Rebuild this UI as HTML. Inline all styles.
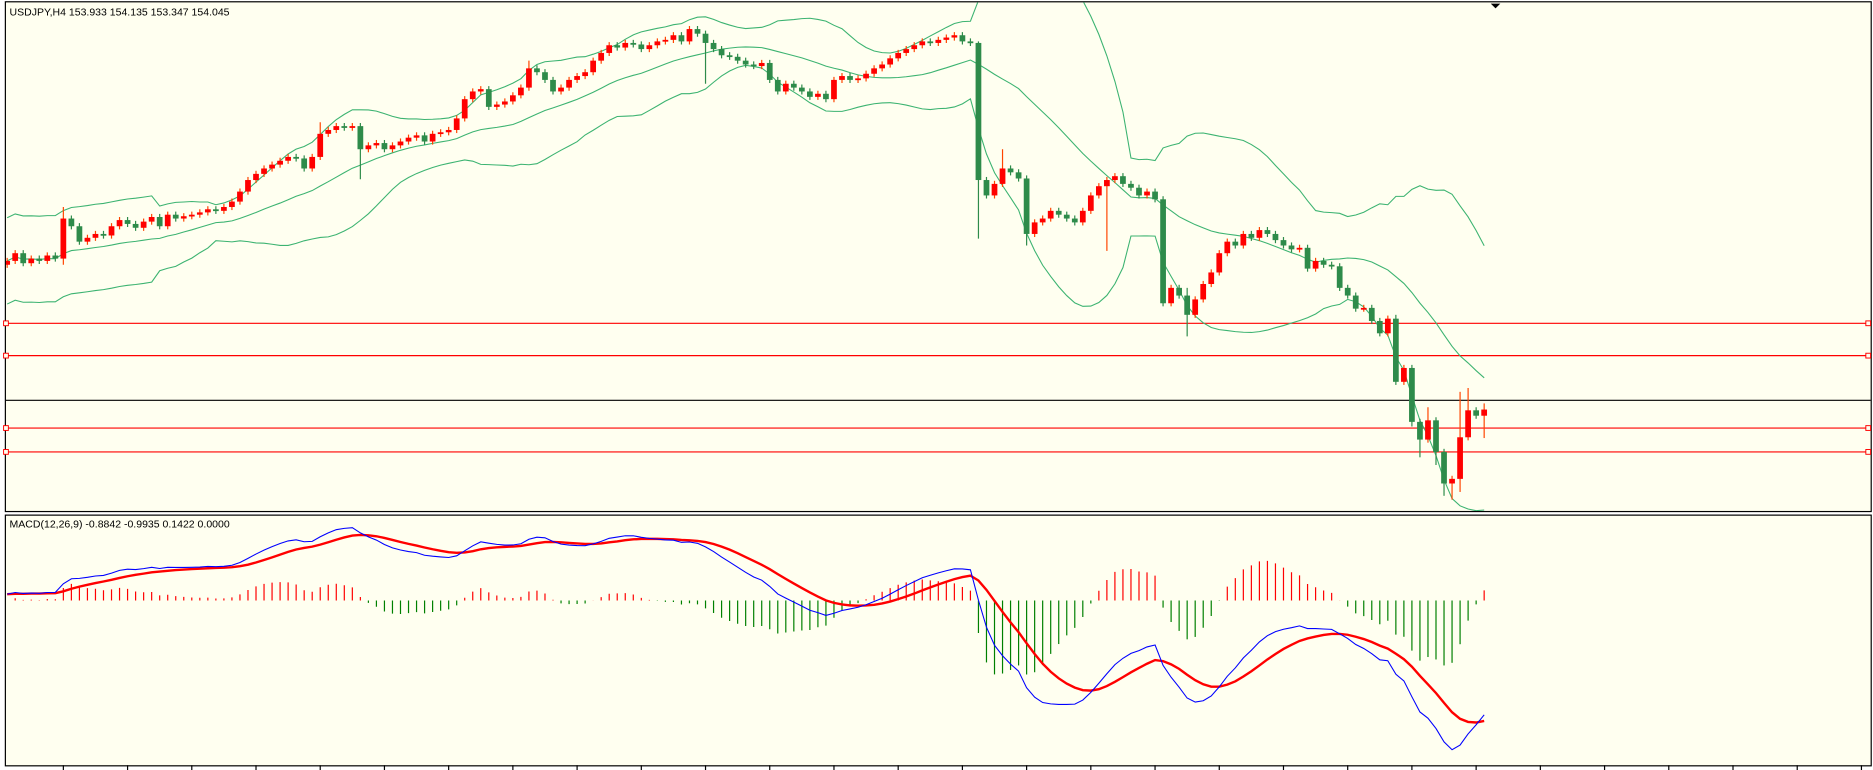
<!DOCTYPE html>
<html><head><meta charset="utf-8"><title>USDJPY H4</title>
<style>
html,body{margin:0;padding:0;background:#fff;}
svg{display:block;font-family:"Liberation Sans",sans-serif;}
</style></head>
<body>
<svg id="chart" width="1873" height="770" viewBox="0 0 1568 645" preserveAspectRatio="none" xmlns="http://www.w3.org/2000/svg">
  <rect x="0" y="0" width="1568" height="645" fill="#ffffff"/>
  <rect x="4.5" y="1.5" width="1562" height="427" fill="#fffff0" stroke="#000" stroke-width="1"/>
  <rect x="4.5" y="431.5" width="1562" height="210" fill="#fffff0" stroke="#000" stroke-width="1"/>
  <defs>
    <clipPath id="clipMain"><rect x="5" y="2" width="1561" height="426"/></clipPath>
    <clipPath id="clipMacd"><rect x="5" y="432" width="1561" height="209"/></clipPath>
  </defs>
  <g id="levels"></g>
  <g id="bands" clip-path="url(#clipMain)"></g>
  <g id="candles" clip-path="url(#clipMain)"></g>
  <g id="macd" clip-path="url(#clipMacd)"></g>
  <g id="ticks"></g>
  <text x="8" y="13" font-size="8.8" fill="#000">USDJPY,H4  153.933 154.135 153.347 154.045</text>
  <text x="8" y="442" font-size="8.8" fill="#000">MACD(12,26,9) -0.8842 -0.9935 0.1422 0.0000</text>
  <path d="M1248 3 L1256 3 L1252 7 Z" fill="#000"/>
</svg>
<script>
const closes = [
155.85,155.95,155.82,155.88,155.85,155.92,155.88,
156.40,156.30,156.10,156.15,156.20,156.18,156.30,156.38,156.33,156.28,156.36,
156.42,156.30,156.45,156.40,156.43,156.45,156.48,156.52,156.50,156.55,
156.62,156.75,156.90,156.98,157.05,157.10,157.15,157.20,157.18,157.05,157.20,
157.50,157.55,157.60,157.58,157.60,
157.30,157.35,157.38,157.30,157.35,157.40,157.45,157.48,157.40,157.50,157.52,157.55,
157.70,157.95,158.05,158.08,157.85,157.88,157.92,158.00,158.10,
158.35,158.30,158.20,158.05,158.10,158.20,158.25,158.30,158.45,158.55,
158.65,158.62,158.68,158.66,158.60,158.65,158.70,158.72,158.78,158.70,
158.86,158.80,158.68,158.60,158.52,158.50,158.45,158.40,158.38,158.42,
158.20,158.05,158.15,158.10,158.05,157.98,158.02,157.95,158.20,158.25,158.20,158.22,
158.28,158.35,158.40,158.48,158.55,158.60,158.65,158.70,158.68,158.72,158.75,158.78,158.70,158.68,
156.90,156.70,156.85,157.05,157.00,156.92,156.20,156.35,156.40,156.50,156.45,156.40,156.35,156.50,
156.70,156.82,156.90,156.95,156.85,156.80,156.70,156.75,156.65,
155.30,155.50,155.40,155.15,155.35,155.55,155.70,155.95,156.10,156.05,156.20,156.15,156.25,156.20,156.12,156.05,156.00,156.02,155.75,155.85,155.80,155.78,155.50,155.40,
155.23,155.24,155.07,154.91,155.10,154.28,154.46,153.76,153.53,153.78,153.37,152.96,153.02,153.56,153.91,153.84,153.92
];
const highOverrides = {7:156.55,39:157.65,65:158.45,121:158.70,124:157.30,147:155.50,173:155.15,175:154.50,177:153.95,181:154.15,182:154.20,184:154.00};
const lowOverrides = {7:155.80,44:156.91,87:158.15,121:156.14,127:156.05,137:155.98,147:154.87,175:153.70,176:153.30,178:153.20,179:152.80,180:152.75,181:152.85,184:153.55};
const levelPrices = [155.04, 154.62, 153.68, 153.37];
const currentPrice = 154.04;

const NS='http://www.w3.org/2000/svg';
function mk(tag, attrs, parent){const e=document.createElementNS(NS,tag);for(const k in attrs)e.setAttribute(k,attrs[k]);parent.appendChild(e);return e;}
const xOf = i => 6 + 6.72*i;
const yOf = p => 335 - (p - 154.045)/0.0155;

const gL=document.getElementById('levels');
levelPrices.forEach((p)=>{
  const y=yOf(p);
  const l=mk('line',{x1:5,x2:1566,y1:y,y2:y,stroke:'#ff0000','stroke-width':1},gL);
  
  
  [5,1564].forEach(x=>{
    const r=mk('rect',{x:x-2,y:y-2,width:4,height:4,fill:'#fffff0',stroke:'#ff0000','stroke-width':0.8},gL);
    
    
  });
});
{
  const y=yOf(currentPrice);
  const l=mk('line',{x1:5,x2:1566,y1:y,y2:y,stroke:'#000','stroke-width':1},gL);
  
  
}

const gC=document.getElementById('candles');
const N=closes.length;
for(let i=0;i<N;i++){
  const c=closes[i], o=i?closes[i-1]:155.80;
  const hi = highOverrides[i]!==undefined?highOverrides[i]:Math.max(o,c)+0.04;
  const lo = lowOverrides[i]!==undefined?lowOverrides[i]:Math.min(o,c)-0.04;
  const up=c>=o, x=xOf(i);
  const col= up?'#ff0000':'#2e8b4a';
  const wick= up?'#ff4500':'#2e8b4a';
  const g=mk('g',{},gC);
  
  
  mk('line',{x1:x,x2:x,y1:yOf(hi),y2:yOf(lo),stroke:wick,'stroke-width':1},g);
  const yt=yOf(Math.max(o,c)), yb=yOf(Math.min(o,c));
  mk('rect',{x:x-2.4,y:yt,width:4.8,height:Math.max(1.5,yb-yt),fill:col},g);
}

const gB=document.getElementById('bands');
const up=[],mid=[],lw=[];
for(let i=0;i<N;i++){
  const s=Math.max(0,i-19), w=closes.slice(s,i+1);
  const m=w.reduce((a,b)=>a+b,0)/w.length;
  let sd=Math.sqrt(w.reduce((a,b)=>a+(b-m)*(b-m),0)/w.length);
  if(i<19) sd=Math.max(sd,0.28);
  mid.push(m);up.push(m+2*sd);lw.push(m-2*sd);
}
[['bollinger-upper',up],['bollinger-middle',mid],['bollinger-lower',lw]].forEach(([n,arr])=>{
  const d=arr.map((v,i)=>(i?'L':'M')+xOf(i).toFixed(1)+' '+yOf(v).toFixed(1)).join(' ');
  const p=mk('path',{d:d,fill:'none',stroke:'#3cb371','stroke-width':0.9},gB);
  
  
});

function ema(arr,n){const k=2/(n+1);const r=[arr[0]];for(let i=1;i<arr.length;i++)r.push(arr[i]*k+r[i-1]*(1-k));return r;}
const e12=ema(closes,12), e26=ema(closes,26);
const macdV=e12.map((v,i)=>v-e26[i]);
const sigV=ema(macdV,9);
const histV=macdV.map((v,i)=>v-sigV[i]);
let mn=Infinity,mx=-Infinity;
for(let i=8;i<N;i++){mn=Math.min(mn,macdV[i],sigV[i]);mx=Math.max(mx,macdV[i],sigV[i]);}
const yM=v=>628-(v-mn)/(mx-mn)*(628-442);
let hmax=0;histV.forEach(v=>hmax=Math.max(hmax,Math.abs(v)));
const yH=v=>503-v/hmax*62;
const gM=document.getElementById('macd');
for(let i=0;i<N;i++){
  const v=histV[i];
  const b=mk('line',{x1:xOf(i),x2:xOf(i),y1:503,y2:yH(v),stroke:v>=0?'#ff0000':'#008000','stroke-width':1},gM);
  
  
}
const sigPath=mk('path',{d:sigV.map((v,i)=>(i?'L':'M')+xOf(i).toFixed(1)+' '+yM(v).toFixed(1)).join(' '),fill:'none',stroke:'#ff0000','stroke-width':2},gM);


const macdPath=mk('path',{d:macdV.map((v,i)=>(i?'L':'M')+xOf(i).toFixed(1)+' '+yM(v).toFixed(1)).join(' '),fill:'none',stroke:'#0000ff','stroke-width':0.9},gM);



const gT=document.getElementById('ticks');
for(let i=7;i<N+100;i+=8){
  const x=xOf(i); if(x>1560)break;
  const t=mk('line',{x1:x,x2:x,y1:641,y2:645,stroke:'#000','stroke-width':1},gT);
  
  
}
</script>
</body></html>
